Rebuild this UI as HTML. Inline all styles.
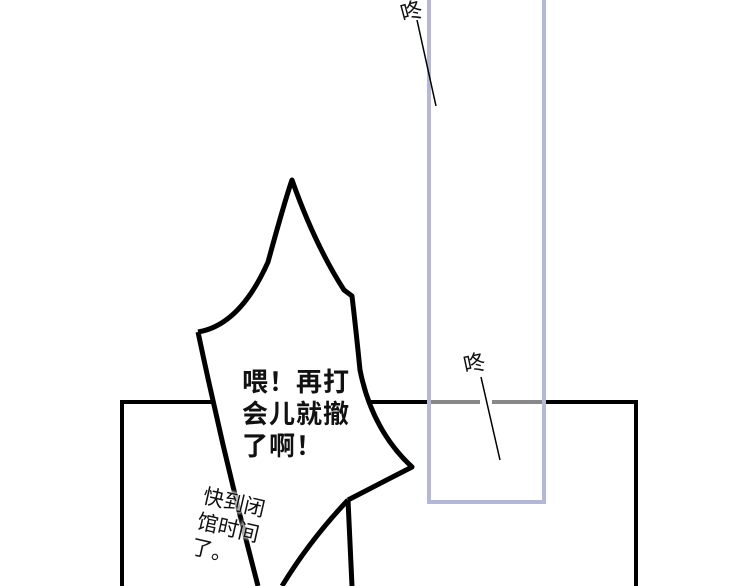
<!DOCTYPE html>
<html><head><meta charset="utf-8"><style>
body{margin:0;width:750px;height:586px;overflow:hidden;background:#fff;position:relative;font-family:"Liberation Sans","Noto Sans CJK SC",sans-serif}
.t{position:absolute;color:#111;white-space:nowrap}
</style></head><body>
<svg width="750" height="586" style="position:absolute;left:0;top:0">
<path d="M122 586 V402 H428 M545 402 H636 V586" fill="none" stroke="#000" stroke-width="4"/>
<path d="M430 402 H480 M492 402 H544" stroke="#888" stroke-width="4"/>
<path d="M429 0 V502 H544 V0" fill="none" stroke="#b4b8d4" stroke-width="4"/>
<path d="M198 332 Q240 325 268 262 Q285 200 292 180 Q315 245 344 290 L352 296 Q356 330 360 370 Q372 430 412 467 L348 500 L352 586 L258 586 Q225 460 198 332 Z" fill="#fff" stroke="none"/>
<path d="M198 332 Q240 325 268 262 Q285 200 292 180 Q315 245 344 290 L352 296 Q356 330 360 370 Q372 430 412 467 L348 500" fill="none" stroke="#000" stroke-width="5" stroke-linejoin="round"/>
<path d="M198 332 Q225 460 258 586" fill="none" stroke="#000" stroke-width="5"/>
<path d="M348 500 L352 586 M348 500 Q310 540 282 586" fill="none" stroke="#000" stroke-width="5"/>
<line x1="417" y1="20" x2="436" y2="106" stroke="#000" stroke-width="1.5"/>
<line x1="481" y1="377" x2="500" y2="460" stroke="#000" stroke-width="1.5"/>
</svg>
<div class="t" style="left:242px;top:366px;font-size:26px;font-weight:bold;line-height:32px;letter-spacing:1px">喂！再打<br>会儿就撤<br>了啊！</div>
<div class="t" style="left:206px;top:484px;font-size:21px;line-height:26px;transform:rotate(13deg);transform-origin:left top;text-shadow:0 0 3px #fff,0 0 3px #fff,0 0 3px #fff">快到闭<br>馆时间<br>了。</div>
<div class="t" style="left:400px;top:-6px;font-size:22px;transform:rotate(-15deg)">咚</div>
<div class="t" style="left:463px;top:346px;font-size:22px;transform:rotate(-12deg)">咚</div>
</body></html>
